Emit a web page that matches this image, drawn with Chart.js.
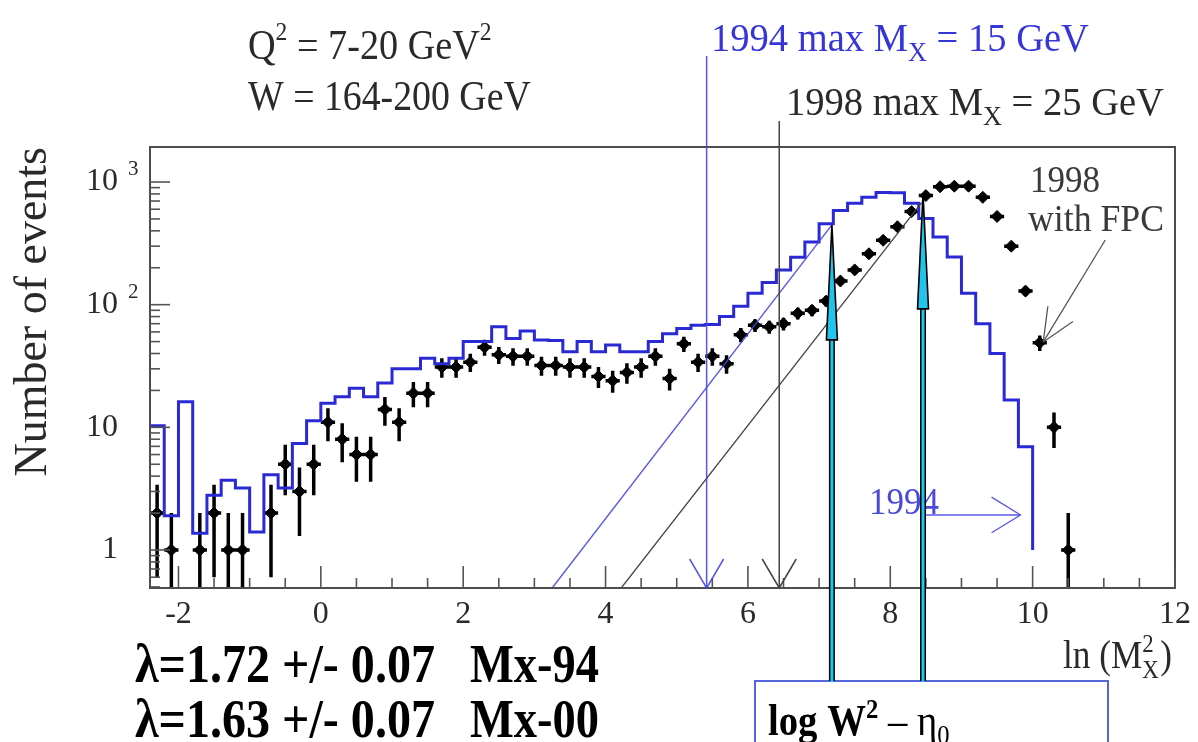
<!DOCTYPE html>
<html>
<head>
<meta charset="utf-8">
<script src="https://cdn.jsdelivr.net/npm/chart.js@4.4.0/dist/chart.umd.min.js"></script>
<style>
  html, body { margin: 0; padding: 0; background: #fff; }
  #wrap { position: relative; width: 1198px; height: 742px; }
</style>
</head>
<body>
<div id="wrap"><canvas id="chart" width="1198" height="742"></canvas></div>
<script>
// 1994 histogram: bin edges (ln Mx^2) and contents
const binEdges94 = [-2.4,-2.2,-2.0,-1.8,-1.6,-1.4,-1.2,-1.0,-0.8,-0.6,-0.4,-0.2,0,0.2,0.4,0.6,0.8,1.0,1.2,1.4,1.6,1.8,2.0,2.2,2.4,2.6,2.8,3.0,3.2,3.4,3.6,3.8,4.0,4.2,4.4,4.6,4.8,5.0,5.2,5.4,5.6,5.8,6.0,6.2,6.4,6.6,6.8,7.0,7.2,7.4,7.6,7.8,8.0,8.2,8.4,8.6,8.8,9.0,9.2,9.4,9.6,9.8,10.0]
const events94 = [10.3,1.9,16.2,1.37,2.8,3.7,3.2,1.4,4.1,3.2,7.4,11.3,15.7,17.8,20.8,17.8,23,30,30,36.5,33,36.5,50,50,66,53,61,51.5,51,41.3,50,41.3,47,41.3,41.3,50,58,64,68,69,80,97,124,152,192,244,325,457,585,670,752,823,816,670,505,357,245,124,70,40,16.7,6.95]
const histFloor = 1

// 1998 data with FPC: bin centres, events, errors
const centers98 = [-2.3,-2.1,-1.7,-1.5,-1.3,-1.1,-0.7,-0.5,-0.3,-0.1,0.1,0.3,0.5,0.7,0.9,1.1,1.3,1.5,1.7,1.9,2.1,2.3,2.5,2.7,2.9,3.1,3.3,3.5,3.7,3.9,4.1,4.3,4.5,4.7,4.9,5.1,5.3,5.5,5.7,5.9,6.1,6.3,6.5,6.7,6.9,7.1,7.3,7.5,7.7,7.9,8.1,8.3,8.5,8.7,8.9,9.1,9.3,9.5,9.7,9.9,10.1,10.3,10.5]
const events98 = [2,1,1,2,1,1,2,5,3,5,11,8,6,6,14,11,19,19,31,31,34,45,39,38,38,32,32,31,31,26,24,28,31,38,25,48,34,38,33,57,68,66,70,85,90,107,156,192,260,335,432,574,775,915,925,925,750,524,300,129,49,10,1]
const errors98 = [1.4,1,1,1.4,1,1,1.4,2.2,1.7,2.2,3.3,2.8,2.4,2.4,3.7,3.3,4.4,4.4,5.6,5.6,5.8,6.7,6.2,6.2,6.2,5.7,5.7,5.6,5.6,5.1,4.9,5.3,5.6,6.2,5,6.9,5.8,6.2,5.7,7.5,8.2,8.1,8.4,9.2,9.5,10.3,12.5,13.9,16.1,18.3,20.8,24,27.8,30.2,30.4,30.4,27.4,22.9,17.3,11.4,7,3.2,1]
const binHalf = 0.1

// axes
const xMin = -2.4, xMax = 12
const yMin = 0.49, yMax = 1930
const xLabelTicks = [-2, 0, 2, 4, 6, 8, 10, 12]
const xMinorStep = 0.5
const yLabelTicks = [1, 10, 100, 1000]

// annotation lines (ln Mx^2, events)
const diag94 = [{x: 3.25, y: yMin}, {x: 7.18, y: 447}]
const diag98 = [{x: 4.22, y: yMin}, {x: 8.44, y: 680}]
const maxMx94 = 5.42, maxMx98 = 6.44
const cyanArrows = [{x: 7.18, y: 447}, {x: 8.46, y: 800}]

const SERIF = '"Liberation Serif", "DejaVu Serif", serif'
const TXT = '#2a2a2a'
const BLUE = '#2a2ad4'
const THINBLUE = 'rgba(70,70,225,0.9)'

const histPts = events94.map((v, i) => ({x: binEdges94[i], y: v}))
histPts.push({x: binEdges94[events94.length], y: events94[events94.length - 1]})
histPts.push({x: binEdges94[events94.length], y: histFloor})

const pts98 = centers98.map((c, i) => ({x: c, y: events98[i]}))
const hBars = [], vBars = []
centers98.forEach((c, i) => {
  const v = events98[i], e = errors98[i]
  hBars.push({x: c - binHalf, y: v}, {x: c + binHalf, y: v}, {x: c, y: null})
  vBars.push({x: c, y: Math.max(v - e, yMin / 4)}, {x: c, y: v + e}, {x: c, y: null})
})

function seg(ctx, x1, y1, x2, y2) {
  ctx.beginPath(); ctx.moveTo(x1, y1); ctx.lineTo(x2, y2); ctx.stroke()
}
// text made of runs: [text, size, dy, bold, noAdvance]; sx squeezes horizontally
function runs(ctx, x, y, parts, color, sx = 1) {
  ctx.save()
  ctx.translate(x, y); ctx.scale(sx, 1)
  ctx.fillStyle = color
  ctx.textAlign = 'left'; ctx.textBaseline = 'alphabetic'
  let cx = 0
  for (const p of parts) {
    ctx.font = (p[3] ? 'bold ' : '') + p[1] + 'px ' + SERIF
    ctx.fillText(p[0], cx, p[2] || 0)
    if (!p[4]) cx += ctx.measureText(p[0]).width
  }
  ctx.restore()
  return x + cx * sx
}
function openHead(ctx, tx, ty, fx, fy, len, spread) {
  const ang = Math.atan2(ty - fy, tx - fx)
  for (const s of [-spread, spread]) {
    seg(ctx, tx, ty, tx - len * Math.cos(ang + s), ty - len * Math.sin(ang + s))
  }
}

const overlay = {
  id: 'overlay',
  afterDatasetsDraw(chart) {
    const {ctx, chartArea: a, scales: {x, y}} = chart
    ctx.save()
    ctx.lineCap = 'butt'
    // frame
    ctx.strokeStyle = '#4d4d4d'; ctx.lineWidth = 2
    ctx.strokeRect(a.left, a.top, a.right - a.left, a.bottom - a.top)
    // inward ticks
    ctx.lineWidth = 1.6; ctx.strokeStyle = '#555'
    for (let v = xLabelTicks[0]; v <= xMax + 1e-9; v += xMinorStep) {
      const px = x.getPixelForValue(v)
      const major = xLabelTicks.some(t => Math.abs(t - v) < 1e-6)
      seg(ctx, px, a.bottom, px, a.bottom - (major ? 22 : 10))
    }
    for (let k = -1; k <= 3; k++) {
      for (let m = 1; m <= 9; m++) {
        const v = m * Math.pow(10, k)
        if (v < yMin || v > yMax) continue
        const py = y.getPixelForValue(v)
        seg(ctx, a.left, py, a.left + (m === 1 ? 20 : 10), py)
      }
    }
    // exponents on y labels
    ctx.fillStyle = TXT; ctx.font = '21px ' + SERIF; ctx.textAlign = 'left'
    for (const v of yLabelTicks) {
      if (v < 100) continue
      ctx.fillText(String(Math.round(Math.log10(v))), 128, y.getPixelForValue(v) - 7)
    }

    // max Mx vertical lines with open heads
    const bx = x.getPixelForValue(maxMx94), kx = x.getPixelForValue(maxMx98)
    ctx.lineWidth = 1.5; ctx.strokeStyle = THINBLUE
    seg(ctx, bx, 56, bx, a.bottom)
    seg(ctx, bx - 17, a.bottom - 29, bx, a.bottom); seg(ctx, bx + 17, a.bottom - 29, bx, a.bottom)
    ctx.strokeStyle = '#444'
    seg(ctx, kx, 121, kx, a.bottom)
    seg(ctx, kx - 17, a.bottom - 29, kx, a.bottom); seg(ctx, kx + 17, a.bottom - 29, kx, a.bottom)

    // header texts
    runs(ctx, 248, 59, [['Q', 42], ['2', 26, -19], [' = 7-20 GeV', 42], ['2', 26, -19]], TXT, 0.91)
    runs(ctx, 248, 110, [['W = 164-200 GeV', 42]], TXT, 0.9)
    runs(ctx, 711, 51, [['1994 max M', 41], ['X', 28, 10], [' = 15 GeV', 41]], '#3535d8', 0.94)
    runs(ctx, 786, 115, [['1998 max M', 41], ['X', 28, 10], [' = 25 GeV', 41]], TXT, 0.94)

    // 1998 with FPC label and arrow
    runs(ctx, 1030, 192, [['1998', 38]], '#3a3a3a', 0.92)
    runs(ctx, 1028, 231, [['with FPC', 38]], '#3a3a3a', 0.94)
    const ftx = x.getPixelForValue(10.15), fty = y.getPixelForValue(49.7)
    const ffx = x.getPixelForValue(11.02), ffy = y.getPixelForValue(337)
    ctx.strokeStyle = '#555'; ctx.lineWidth = 1.3
    seg(ctx, ffx, ffy, ftx, fty)
    openHead(ctx, ftx, fty, ffx, ffy, 36, 0.42)

    // 1994 label and arrow
    runs(ctx, 869, 514, [['1994', 38]], '#4a4ad8', 0.92)
    const ay = y.getPixelForValue(1.93)
    const atx = x.getPixelForValue(9.83), afx = x.getPixelForValue(8.5)
    ctx.strokeStyle = THINBLUE; ctx.lineWidth = 1.4
    seg(ctx, afx, ay, atx, ay)
    openHead(ctx, atx, ay, afx, ay, 34, 0.55)

    // x axis title
    const tx = runs(ctx, 1063, 668, [['ln (M', 40]], TXT, 0.88)
    runs(ctx, tx, 668, [['X', 26, 10, false, true], ['2', 26, -16]], TXT, 0.88)
    runs(ctx, tx + 18, 668, [[')', 40]], TXT, 0.88)

    // lambda results
    runs(ctx, 135, 682, [['\u03bb=1.72 +/- 0.07', 54, 0, true]], '#000', 0.89)
    runs(ctx, 470, 682, [['Mx-94', 54, 0, true]], '#000', 0.86)
    runs(ctx, 135, 737, [['\u03bb=1.63 +/- 0.07', 54, 0, true]], '#000', 0.89)
    runs(ctx, 470, 737, [['Mx-00', 54, 0, true]], '#000', 0.86)

    // box
    const boxTop = 681
    ctx.strokeStyle = '#5566dd'; ctx.lineWidth = 2
    ctx.strokeRect(755, boxTop, 353, 80)
    runs(ctx, 768, 735, [['log W', 44, 0, true], ['2', 28, -17, true], [' \u2013 \u03b7', 44], ['0', 28, 9]], '#000', 0.88)

    // cyan arrows
    for (const ar of cyanArrows) {
      const px = x.getPixelForValue(ar.x), tipY = y.getPixelForValue(ar.y)
      const baseY = tipY + 115
      ctx.strokeStyle = '#000'; ctx.lineWidth = 6
      seg(ctx, px, boxTop, px, baseY)
      ctx.strokeStyle = '#22c4ec'; ctx.lineWidth = 3
      seg(ctx, px, boxTop + 1, px, baseY - 1)
      ctx.beginPath()
      ctx.moveTo(px - 5.5, baseY); ctx.lineTo(px, tipY); ctx.lineTo(px + 5.5, baseY); ctx.closePath()
      ctx.fillStyle = '#22c4ec'; ctx.fill()
      ctx.strokeStyle = '#000'; ctx.lineWidth = 1.6; ctx.stroke()
    }
    ctx.restore()
  }
}

new Chart(document.getElementById('chart'), {
  type: 'line',
  data: {
    datasets: [
      {data: diag94, borderColor: THINBLUE, borderWidth: 1.4, pointRadius: 0},
      {data: diag98, borderColor: '#444', borderWidth: 1.3, pointRadius: 0},
      {data: histPts, stepped: 'before', borderColor: BLUE, borderWidth: 3, pointRadius: 0},
      {data: hBars, borderColor: '#000', borderWidth: 3.5, pointRadius: 0},
      {data: vBars, borderColor: '#000', borderWidth: 3.5, pointRadius: 0},
      {data: pts98, showLine: false, pointStyle: 'rectRot', pointRadius: 6,
       pointBackgroundColor: '#000', pointBorderColor: '#000', pointBorderWidth: 1}
    ]
  },
  options: {
    responsive: false,
    animation: false,
    events: [],
    layout: {padding: {top: 147, right: 21, bottom: 0, left: 0}},
    plugins: {legend: {display: false}, tooltip: {enabled: false}},
    scales: {
      x: {
        type: 'linear', min: xMin, max: xMax,
        grid: {display: false, drawTicks: false}, border: {display: false},
        afterFit: s => { s.height = 154 },
        ticks: {
          stepSize: 2, includeBounds: false, autoSkip: false, maxRotation: 0, padding: 7,
          color: TXT, font: {family: SERIF, size: 32},
          callback: v => xLabelTicks.includes(v) ? String(v) : ''
        }
      },
      y: {
        type: 'logarithmic', min: yMin, max: yMax,
        grid: {display: false, drawTicks: false}, border: {display: false},
        afterFit: s => { s.width = 150 },
        ticks: {
          autoSkip: false, padding: 32, color: TXT, font: {family: SERIF, size: 32},
          callback: v => yLabelTicks.some(t => Math.abs(t - v) < 1e-6 * t) ? (v < 100 ? String(v) : '10') : ''
        },
        title: {
          display: true, text: 'Number of events', align: 'end', color: TXT,
          font: {family: SERIF, size: 46}, padding: {top: 6, bottom: 0}
        }
      }
    }
  },
  plugins: [overlay]
})
</script>
</body>
</html>
